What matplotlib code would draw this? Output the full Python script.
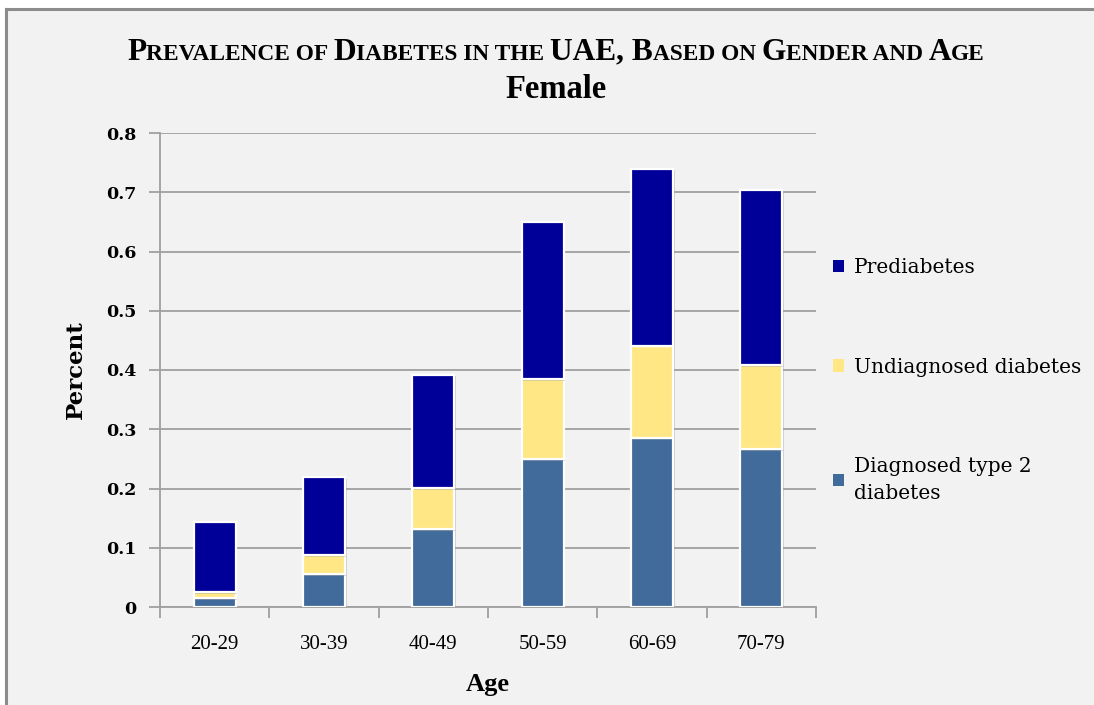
import matplotlib
matplotlib.use("Agg")
import matplotlib.pyplot as plt
from matplotlib.patches import Rectangle
from matplotlib.lines import Line2D
from matplotlib.offsetbox import TextArea, HPacker, AnnotationBbox
import matplotlib.patheffects as pe

# ---- data ----
age_groups = ["20-29", "30-39", "40-49", "50-59", "60-69", "70-79"]
diagnosed = [0.015, 0.055, 0.131, 0.250, 0.286, 0.266]
undiagnosed = [0.010, 0.032, 0.070, 0.135, 0.155, 0.142]
prediabetes = [0.118, 0.132, 0.191, 0.264, 0.299, 0.296]
series_labels = ["Diagnosed type 2\ndiabetes", "Undiagnosed diabetes", "Prediabetes"]
y_ticks = [0.0, 0.1, 0.2, 0.3, 0.4, 0.5, 0.6, 0.7, 0.8]
y_tick_labels = ["0", "0.1", "0.2", "0.3", "0.4", "0.5", "0.6", "0.7", "0.8"]

colors = ["#416b9b", "#fee784", "#000099"]
bg = "#f2f2f2"
grid_c = "#a0a0a0"

W, H = 1094, 705
fig = plt.figure(figsize=(W / 100, H / 100), dpi=100)
fig.patch.set_facecolor("white")
# chart area background with grey border (top/left only)
fig.patches.append(Rectangle((6 / W, 0), 1.0, 1 - 9 / H, transform=fig.transFigure,
                             facecolor=bg, edgecolor="none", zorder=-10))
fig.add_artist(Line2D([6 / W, 1.0], [1 - 9 / H, 1 - 9 / H], transform=fig.transFigure,
                      color="#8c8c8c", linewidth=2.2))
fig.add_artist(Line2D([6 / W, 6 / W], [0, 1 - 9 / H], transform=fig.transFigure,
                      color="#8c8c8c", linewidth=2.2))

ax = fig.add_axes([160 / W, 1 - 607 / H, (816 - 160) / W, (607 - 133) / H])
ax.set_facecolor(bg)

x = list(range(len(age_groups)))
bw = 0.385
shadow = [pe.SimplePatchShadow(offset=(1.2, -1.2), shadow_rgbFace="#888888", alpha=0.35), pe.Normal()]
bottom = [0.0] * len(x)
handles = []
for vals, col, lab in zip([diagnosed, undiagnosed, prediabetes], colors, series_labels):
    bars = ax.bar(x, vals, bw, bottom=bottom, color=col, edgecolor="white", linewidth=1.6,
                  label=lab, zorder=3)
    for b in bars:
        b.set_path_effects(shadow)
    handles.append(bars)
    bottom = [b + v for b, v in zip(bottom, vals)]

ax.set_xlim(-0.5, len(x) - 0.5)
ax.set_ylim(0, 0.8)
ax.set_yticks(y_ticks)
ax.set_yticklabels(y_tick_labels, fontfamily="DejaVu Serif", fontweight="bold", fontsize=12.5)
ax.yaxis.grid(True, color=grid_c, linewidth=1.3, zorder=0)
ax.set_axisbelow(True)

ax.set_xticks(x)
ax.set_xticklabels(age_groups, fontfamily="Liberation Serif", fontsize=15)
ax.set_xticks([i - 0.5 for i in range(len(x) + 1)], minor=True)
ax.tick_params(axis="x", which="major", length=0, pad=20)
ax.tick_params(axis="x", which="minor", length=8, color=grid_c, width=1.3)
ax.tick_params(axis="y", length=8, color=grid_c, width=1.3, pad=9)

for s in ["top", "right"]:
    ax.spines[s].set_visible(False)
for s in ["left", "bottom"]:
    ax.spines[s].set_color(grid_c)
    ax.spines[s].set_linewidth(1.3)

ax.set_ylabel("Percent", fontfamily="DejaVu Serif", fontweight="bold", fontsize=16.5, labelpad=14)
ax.set_xlabel("Age", fontfamily="Liberation Serif", fontweight="bold", fontsize=19, labelpad=14)

leg = ax.legend([handles[2], handles[1], handles[0]],
                [series_labels[2], series_labels[1], series_labels[0]],
                loc="center left", bbox_to_anchor=(1.0, 0.478), frameon=False,
                prop={"family": "DejaVu Serif", "size": 14.5},
                handlelength=0.55, handleheight=0.55, handletextpad=0.5,
                labelspacing=4.0, borderaxespad=0.45)
for h in leg.legend_handles:
    h.set_edgecolor("none")
    h.set_path_effects([])
for t in leg.get_texts():
    t.set_linespacing(1.5)

# ---- small caps title ----
title_parts = [("P", True), ("REVALENCE OF ", False), ("D", True), ("IABETES IN THE ", False),
               ("UAE, B", True), ("ASED ON ", False), ("G", True), ("ENDER AND ", False),
               ("A", True), ("GE", False)]
big, small = 22.6, 16.8
children = [TextArea(t, textprops=dict(fontfamily="Liberation Serif", fontweight="bold",
                                       fontsize=big if b else small, color="black"))
            for t, b in title_parts]
pack = HPacker(children=children, align="baseline", pad=0, sep=0)
ab = AnnotationBbox(pack, (556 / W, 1 - 52 / H), xycoords="figure fraction", frameon=False,
                    box_alignment=(0.5, 0.5))
fig.add_artist(ab)
fig.text(556 / W, 1 - 89 / H, "Female", ha="center", va="center",
         fontfamily="Liberation Serif", fontweight="bold", fontsize=23.5)

fig.savefig("out.png", dpi=100, facecolor=fig.get_facecolor())
